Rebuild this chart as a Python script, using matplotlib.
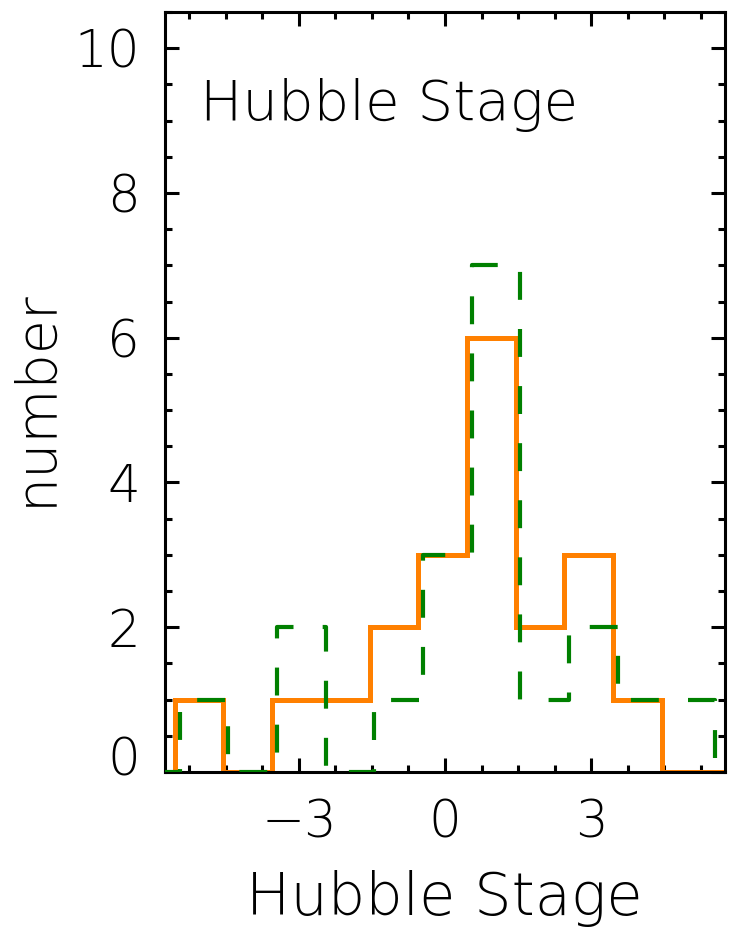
import numpy as np
import matplotlib
matplotlib.use("Agg")
import matplotlib.pyplot as plt
from matplotlib.transforms import ScaledTranslation

# Data
stages = [-6, -5, -4, -3, -2, -1, 0, 1, 2, 3, 4, 5, 6]
counts_orange = [0, 1, 0, 1, 1, 2, 3, 6, 2, 3, 1, 0, 0]
counts_green = [0, 1, 0, 2, 0, 1, 3, 7, 1, 2, 1, 1, 0]
xtick_vals = [-3, 0, 3]
xtick_labels = ["\u22123", "0", "3"]
ytick_vals = [0, 2, 4, 6, 8, 10]

plt.rcParams['font.family'] = ['DejaVu Sans']
plt.rcParams['font.weight'] = 'light'
plt.rcParams['axes.labelweight'] = 'light'

fig = plt.figure(figsize=(7.3, 9.3), dpi=100)
ax = fig.add_axes([165/730, 1-772/930, 560/730, 760/930])

shift = 0.05
x = np.array(stages, dtype=float)
ax.step(x - shift, counts_orange, where='mid', color='#FF8000', lw=3.6, zorder=2,
        solid_joinstyle='miter')
ax.step(x + shift, counts_green, where='mid', color='#008000', lw=3.0, zorder=3,
        dashes=(6.7, 7.0))

ax.set_xlim(-5.75, 5.75)
ax.set_ylim(0, 10.5)
ax.set_xticks(xtick_vals)
ax.set_xticklabels(xtick_labels)
ax.set_xticks(np.arange(-5.25, 5.76, 0.75), minor=True)
ax.set_yticks(ytick_vals)
ax.set_yticks(np.arange(0, 10.51, 0.5), minor=True)

for s in ax.spines.values():
    s.set_linewidth(2.2)
ax.tick_params(which='both', direction='in', top=True, right=True, width=2.2,
               labelsize=37)
ax.tick_params(which='major', length=10)
ax.tick_params(which='minor', length=5)
ax.tick_params(axis='y', pad=18)
ax.tick_params(axis='x', pad=19)

ax.set_xlabel("Hubble Stage", fontsize=42.5)
ax.xaxis.set_label_coords(0.498, -0.129)
ax.set_ylabel("number", fontsize=40)
ax.yaxis.set_label_coords(-0.182, 0.493)
ax.text(0.063, 0.878, "Hubble Stage", transform=ax.transAxes, fontsize=40.5,
        ha='left', va='center')

fig.canvas.draw()
lab0 = ax.yaxis.get_major_ticks()[0].label1
lab0.set_transform(lab0.get_transform() + ScaledTranslation(0, 16/100, fig.dpi_scale_trans))

fig.savefig("out.png", dpi=100)
